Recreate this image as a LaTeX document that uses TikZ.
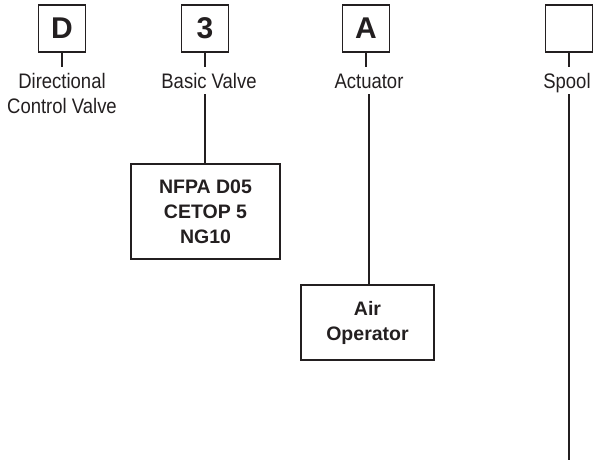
\documentclass[tikz,border=0pt]{standalone}
\usepackage{fontspec}
\setmainfont{Liberation Sans}
\newfontfamily\condfont[FakeStretch=0.88]{Liberation Sans}
\usetikzlibrary{positioning}
\definecolor{ink}{HTML}{231F20}
\begin{document}
\begin{tikzpicture}[x=1pt, y=-1pt,
  code/.style={draw=ink, line width=1.8pt, minimum size=47pt, inner sep=0pt,
    text=ink, font=\fontsize{30}{30}\selectfont\bfseries},
  lbl/.style={anchor=north, inner xsep=0pt, inner ysep=6pt, text=ink,
    font=\condfont\fontsize{21}{25}\selectfont, text height=15pt, text depth=0pt},
  opt/.style={draw=ink, line width=1.8pt, align=center, text=ink,
    font=\fontsize{19.5}{25}\selectfont\bfseries},
  stem/.style={draw=ink, line width=1.4pt}
]
  \useasboundingbox (0,0) rectangle (595,461);

  % code boxes along the top
  \node[code] (d) at (62,28.5) {D};
  \node[code] (three) at (205,28.5) {3};
  \node[code] (act) at (366,28.5) {A};
  \node[code] (spl) at (569,28.5) {};

  % labels under each box
  \node[anchor=north, inner xsep=0pt, inner ysep=6pt, text=ink, align=center,
    font=\condfont\fontsize{21}{25}\selectfont] (dlbl) at (62,67) {Directional\\Control Valve};
  \node[lbl] (tlbl) at (209,67) {Basic Valve};
  \node[lbl] (albl) at (369,67) {Actuator};
  \node[lbl] (slbl) at (567,67) {Spool};
  \draw[stem] (d.south) -- (d.south |- dlbl.north);
  \draw[stem] (three.south) -- (three.south |- tlbl.north);
  \draw[stem] (act.south) -- (act.south |- albl.north);
  \draw[stem] (spl.south) -- (spl.south |- slbl.north);

  % options
  \node[opt, minimum width=149pt, minimum height=95pt] (nfpa) at (205.5,211.5)
    {NFPA D05\\CETOP 5\\NG10};
  \node[opt, minimum width=133pt, minimum height=75pt] (air) at (367.5,322.5)
    {Air\\Operator};
  \coordinate (send) at (569,460);

  \draw[stem] (nfpa.north -| three.south) -- (tlbl.south -| three.south);
  \draw[stem] (albl.south) -- (albl.south |- air.north);
  \draw[stem] (slbl.south -| spl.south) -- (send);
\end{tikzpicture}
\end{document}
